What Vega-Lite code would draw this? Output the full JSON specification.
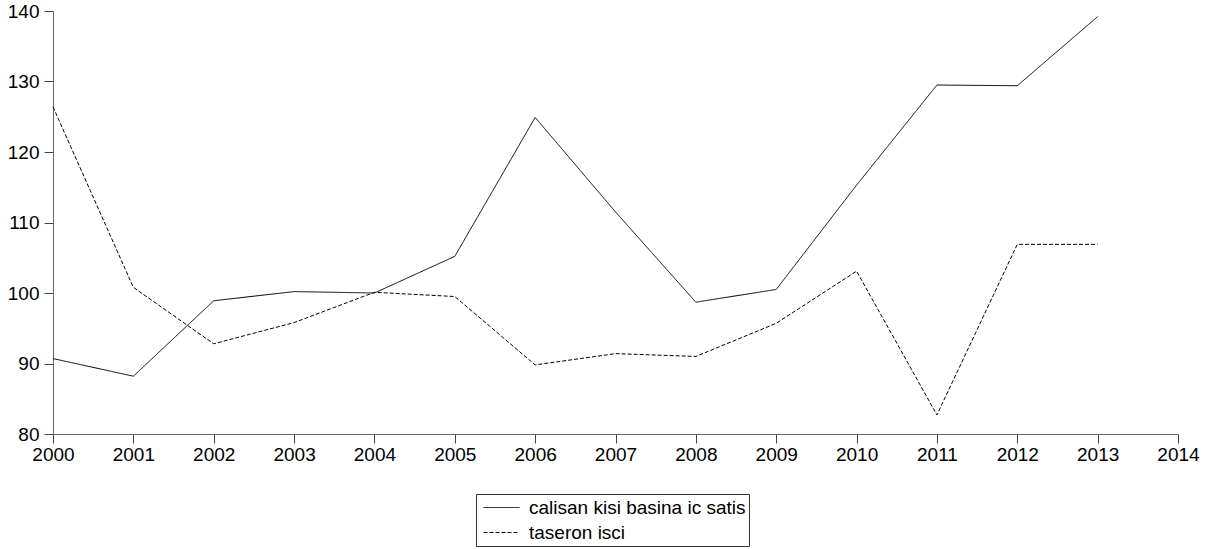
{
  "$schema": "https://vega.github.io/schema/vega-lite/v6.json",
  "autosize": "none",
  "width": 1125,
  "height": 423,
  "padding": {"left": 53, "top": 11, "right": 38, "bottom": 115},
  "background": "white",
  "config": {"view": {"stroke": null}, "font": "Liberation Sans"},
  "data": {
    "values": [
      {"year": 2000, "series": "calisan kisi basina ic satis", "value": 90.7},
      {"year": 2001, "series": "calisan kisi basina ic satis", "value": 88.2},
      {"year": 2002, "series": "calisan kisi basina ic satis", "value": 98.9},
      {"year": 2003, "series": "calisan kisi basina ic satis", "value": 100.2},
      {"year": 2004, "series": "calisan kisi basina ic satis", "value": 100.0},
      {"year": 2005, "series": "calisan kisi basina ic satis", "value": 105.2},
      {"year": 2006, "series": "calisan kisi basina ic satis", "value": 124.9},
      {"year": 2007, "series": "calisan kisi basina ic satis", "value": 111.5},
      {"year": 2008, "series": "calisan kisi basina ic satis", "value": 98.7},
      {"year": 2009, "series": "calisan kisi basina ic satis", "value": 100.5},
      {"year": 2010, "series": "calisan kisi basina ic satis", "value": 115.3},
      {"year": 2011, "series": "calisan kisi basina ic satis", "value": 129.5},
      {"year": 2012, "series": "calisan kisi basina ic satis", "value": 129.4},
      {"year": 2013, "series": "calisan kisi basina ic satis", "value": 139.2},
      {"year": 2000, "series": "taseron isci", "value": 126.4},
      {"year": 2001, "series": "taseron isci", "value": 100.8},
      {"year": 2002, "series": "taseron isci", "value": 92.8},
      {"year": 2003, "series": "taseron isci", "value": 95.8},
      {"year": 2004, "series": "taseron isci", "value": 100.1},
      {"year": 2005, "series": "taseron isci", "value": 99.5},
      {"year": 2006, "series": "taseron isci", "value": 89.8},
      {"year": 2007, "series": "taseron isci", "value": 91.4},
      {"year": 2008, "series": "taseron isci", "value": 91.0},
      {"year": 2009, "series": "taseron isci", "value": 95.7},
      {"year": 2010, "series": "taseron isci", "value": 103.1},
      {"year": 2011, "series": "taseron isci", "value": 82.7},
      {"year": 2012, "series": "taseron isci", "value": 106.9},
      {"year": 2013, "series": "taseron isci", "value": 106.9}
    ]
  },
  "mark": {"type": "line", "color": "#000", "strokeWidth": 1},
  "encoding": {
    "x": {
      "field": "year", "type": "quantitative",
      "scale": {"domain": [2000, 2014], "nice": false, "zero": false},
      "axis": {"title": null, "values": [2000,2001,2002,2003,2004,2005,2006,2007,2008,2009,2010,2011,2012,2013,2014], "format": "d", "grid": false, "domainColor": "#666", "tickColor": "#444", "tickSize": 9, "labelFontSize": 19, "labelColor": "#000", "labelPadding": 2, "labelFlush": false, "labelOverlap": false}
    },
    "y": {
      "field": "value", "type": "quantitative",
      "scale": {"domain": [80, 140], "nice": false, "zero": false},
      "axis": {"title": null, "values": [80, 90, 100, 110, 120, 130, 140], "grid": false, "domainColor": "#666", "tickColor": "#444", "tickSize": 9, "labelFontSize": 19, "labelColor": "#000", "labelPadding": 5, "labelFlush": false, "labelOverlap": false}
    },
    "strokeDash": {
      "field": "series", "type": "nominal",
      "scale": {"domain": ["calisan kisi basina ic satis", "taseron isci"], "range": [[1, 0], [4, 2]]},
      "legend": {
        "title": null,
        "orient": "none",
        "legendX": 423,
        "legendY": 483,
        "direction": "vertical",
        "strokeColor": "#333",
        "padding": 3,
        "fillColor": "white",
        "symbolType": "M-0.6,0H3.0",
        "symbolSize": 400,
        "symbolStrokeColor": "#000",
        "symbolStrokeWidth": 1,
        "labelFontSize": 19,
        "labelColor": "#000",
        "labelLimit": 400,
        "rowPadding": 4,
        "labelOffset": 29
      }
    }
  }
}
